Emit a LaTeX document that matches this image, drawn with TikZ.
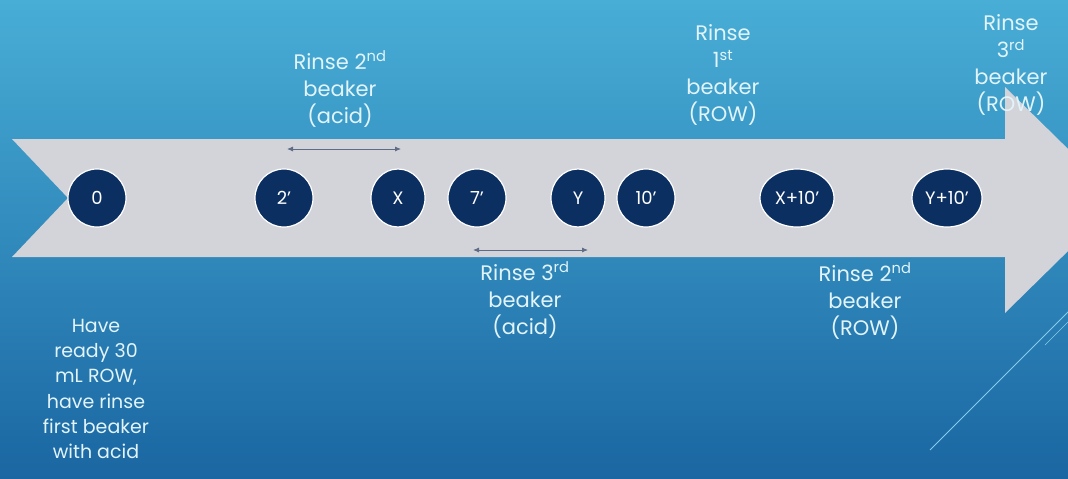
\documentclass[tikz,border=0pt]{standalone}
\usepackage{fontspec}
\setmainfont{Poppins}
\usetikzlibrary{arrows.meta,positioning,shapes.geometric}
\definecolor{bgtop}{HTML}{48AED6}
\definecolor{bgbot}{HTML}{1A66A2}
\definecolor{band}{HTML}{D3D3DA}
\definecolor{dot}{HTML}{0C2F62}
\definecolor{ink}{HTML}{E2F4FA}
\definecolor{span}{HTML}{5E6C84}
\definecolor{deco}{HTML}{86CDEB}
\newcommand{\prm}{{\char"0027}}

\begin{document}
\begin{tikzpicture}[x=1pt, y=-1pt, every node/.style={font=\fontsize{21}{27}\selectfont},
    timedot/.style={ellipse, draw=white, line width=1.2pt, fill=dot, text=white,
      minimum height=58pt, inner sep=0pt, font=\fontsize{18}{18}\selectfont},
    note/.style={text=ink, align=center},
    spanarrow/.style={span, line width=0.8pt, {Latex[length=6pt,width=5pt]}-{Latex[length=6pt,width=5pt]}}]
  \useasboundingbox (0,0) rectangle (1068,479);
  \shade[top color=bgtop, bottom color=bgbot] (0,0) rectangle (1068,479);
  \begin{scope}
    \clip (0,0) rectangle (1068,479);
    % timeline band
    \fill[band] (12,139) -- (1005,139) -- (1005,87) -- (1120,200) -- (1005,313)
      -- (1005,257) -- (12,257) -- (68,198) -- cycle;
    \draw[deco, line width=0.8pt] (930,450) -- (1075,305);
    \draw[deco, line width=0.6pt] (1045,345) -- (1075,315);
  \end{scope}

  \foreach \n/\x/\w/\l in {t0/97/58/0, t2/284/58/2\prm, tx/398/54/X, t7/477/58/7\prm, ty/578/54/Y,
      t10/646/58/10\prm, txp/797/74/X+10\prm, typ/947/70/Y+10\prm}{
    \node[timedot, minimum width=\w pt] (\n) at (\x,198) {\l};
  }

  \coordinate (acidl) at (287,149);
  \coordinate (acidr) at (401,149);
  \coordinate (thirdl) at (473,250);
  \coordinate (thirdr) at (588,250);
  \draw[spanarrow] (acidl) -- (acidr);
  \draw[spanarrow] (thirdl) -- (thirdr);

  \node[note] (secacid) at (340,89) {Rinse 2\textsuperscript{nd}\\beaker\\(acid)};
  \node[note] (firstrow) at (723,75) {Rinse\\1\textsuperscript{st}\\beaker\\(ROW)};
  \node[note] (thirdrow) at (1011,65) {Rinse\\3\textsuperscript{rd}\\beaker\\(ROW)};
  \node[note] (thirdacid) at (525,300) {Rinse 3\textsuperscript{rd}\\beaker\\(acid)};
  \node[note] (secrow) at (865,301) {Rinse 2\textsuperscript{nd}\\beaker\\(ROW)};
  \node[note, font=\fontsize{19}{25.3}\selectfont] (ready) at (96,389)
    {Have\\ready 30\\mL ROW,\\have rinse\\first beaker\\with acid};
\end{tikzpicture}
\end{document}
